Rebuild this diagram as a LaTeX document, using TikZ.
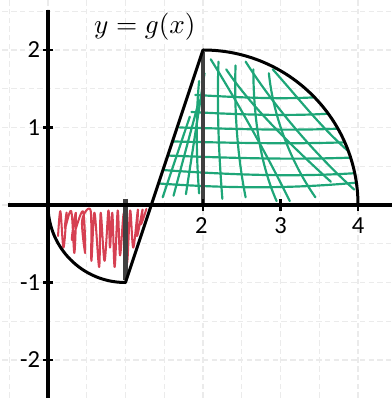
\documentclass[tikz,border=0pt]{standalone}
\usepackage{fontspec}
\newfontfamily\labfont{Carlito}
\begin{document}
\begin{tikzpicture}[
  gridline/.style={gray!16, line width=0.4pt, dash pattern=on 2pt off 1.2pt},
  axisline/.style={black, line width=1.4pt},
  curveline/.style={black, line width=1.1pt, line join=round},
  stripe/.style={black!75, line width=1.8pt},
  redhatch/.style={color={rgb,255:red,214;green,64;blue,82}, line width=0.75pt, line join=round, line cap=round},
  greenhatch/.style={color={rgb,255:red,30;green,166;blue,120}, line width=0.8pt, line cap=round},
  ticklab/.style={font=\labfont\fontsize{9}{10}\selectfont, inner sep=1pt}
]
\useasboundingbox (-0.619,-2.49) rectangle (4.426,2.645);
% grid
\foreach \x in {-0.5,0,...,4.5} \draw[gridline] (\x,-2.6) -- (\x,2.7);
\foreach \y in {-2.5,-2,...,2.5} \draw[gridline] (-0.7,\y) -- (4.5,\y);

\coordinate (O) at (0,0);
\coordinate (A) at (1,-1);
\coordinate (B) at (2,2);
\coordinate (C) at (4,0);
\coordinate (Z) at (4/3,0);

% red hatch
\begin{scope}
\clip (O) arc[start angle=180,end angle=270,radius=1] -- (Z) -- cycle;
\draw[redhatch] plot[smooth, tension=0.55] coordinates {
 (0.13,-0.4) (0.16,-0.08) (0.2,-0.55) (0.24,-0.1) (0.22,-0.3) (0.3,-0.08)
 (0.34,-0.62) (0.36,-0.1) (0.31,-0.45) (0.45,-0.08) (0.48,-0.62) (0.44,-0.2)
 (0.55,-0.07) (0.56,-0.72) (0.6,-0.1) (0.66,-0.8) (0.68,-0.1) (0.73,-0.72)
 (0.78,-0.07) (0.8,-0.55) (0.83,-0.1) (0.86,-0.8) (0.9,-0.07) (0.93,-0.65)
 (0.98,-0.1) (1.02,-0.75) (1.06,-0.07) (1.1,-0.55) (1.16,-0.06) (1.15,-0.4)
 (1.22,-0.06) (1.2,-0.25) (1.27,-0.05)};
\end{scope}

% green hatch
\begin{scope}
\clip (Z) -- (B) arc[start angle=90,end angle=0,radius=2] -- cycle;
\draw[greenhatch] (1.4,0.28) .. controls (2.5,0.2) and (3.3,0.22) .. (4.1,0.3);
\draw[greenhatch] (1.5,0.45) .. controls (2.5,0.38) and (3.3,0.36) .. (4.1,0.42);
\draw[greenhatch] (1.5,0.64) .. controls (2.5,0.6) and (3.3,0.58) .. (4.1,0.62);
\draw[greenhatch] (1.6,0.82) .. controls (2.5,0.8) and (3.3,0.78) .. (4.1,0.82);
\draw[greenhatch] (1.7,1.0) .. controls (2.5,0.98) and (3.3,0.95) .. (4.0,1.0);
\draw[greenhatch] (1.85,1.2) .. controls (2.6,1.16) and (3.3,1.14) .. (3.9,1.2);
\draw[greenhatch] (1.9,1.42) .. controls (2.6,1.38) and (3.1,1.36) .. (3.6,1.4);
\draw[greenhatch] (2.1,1.88) .. controls (2.4,1.4) and (2.8,0.7) .. (3.12,0.05);
\draw[greenhatch] (2.55,1.85) .. controls (2.9,1.3) and (3.4,0.7) .. (3.95,0.2);
\draw[greenhatch] (2.3,1.75) .. controls (2.6,1.3) and (3.1,0.8) .. (3.65,0.3);
\draw[greenhatch] (2.9,1.75) .. controls (3.3,1.3) and (3.6,0.9) .. (4.05,0.55);
\draw[greenhatch] (3.2,1.7) .. controls (3.5,1.4) and (3.8,1.0) .. (4.05,0.85);
\draw[greenhatch] (2.2,1.85) .. controls (2.18,1.3) and (2.2,0.7) .. (2.25,0.08);
\draw[greenhatch] (2.42,1.8) .. controls (2.4,1.2) and (2.45,0.6) .. (2.55,0.1);
\draw[greenhatch] (2.65,1.75) .. controls (2.65,1.1) and (2.75,0.5) .. (2.95,0.05);
\draw[greenhatch] (2.85,1.7) .. controls (2.9,1.2) and (3.1,0.6) .. (3.45,0.1);
\draw[greenhatch] (1.48,0.1) -- (1.83,1.14);
\draw[greenhatch] (1.62,0.12) -- (1.95,1.35);
\draw[greenhatch] (1.78,0.14) -- (2.02,1.7);
\draw[greenhatch] (1.95,0.15) .. controls (1.9,0.8) and (1.92,1.3) .. (1.95,1.6);
\end{scope}

% thick stripes
\draw[stripe] (1,0.08) -- (1,-0.97);
\draw[stripe] (2,1.98) -- (2,0);

% axes
\draw[axisline] (-0.52,0) -- (4.5,0);
\draw[axisline] (0,2.52) -- (0,-2.6);
\foreach \x in {2,3,4} \draw[black, line width=0.9pt] (\x,0.08) -- (\x,-0.08);
\foreach \y in {-2,-1,1,2} \draw[black, line width=0.9pt] (0.07,\y) -- (-0.07,\y);

% curve
\draw[curveline] (O) arc[start angle=180,end angle=270,radius=1] -- (B)
  arc[start angle=90,end angle=0,radius=2];

% labels
\node[ticklab, anchor=east] (ly2) at (-0.06,2) {2};
\node[ticklab, anchor=east] (ly1) at (-0.06,1) {1};
\node[ticklab, anchor=east] (lym1) at (-0.06,-1) {-1};
\node[ticklab, anchor=east] (lym2) at (-0.06,-2) {-2};
\node[ticklab, anchor=north] (lx2) at (1.98,-0.12) {2};
\node[ticklab, anchor=north] (lx3) at (3,-0.12) {3};
\node[ticklab, anchor=north] (lx4) at (4,-0.12) {4};
\node[font=\fontsize{10}{12}\selectfont] (title) at (1.25,2.3) {$y=g(x)$};
\end{tikzpicture}
\end{document}
